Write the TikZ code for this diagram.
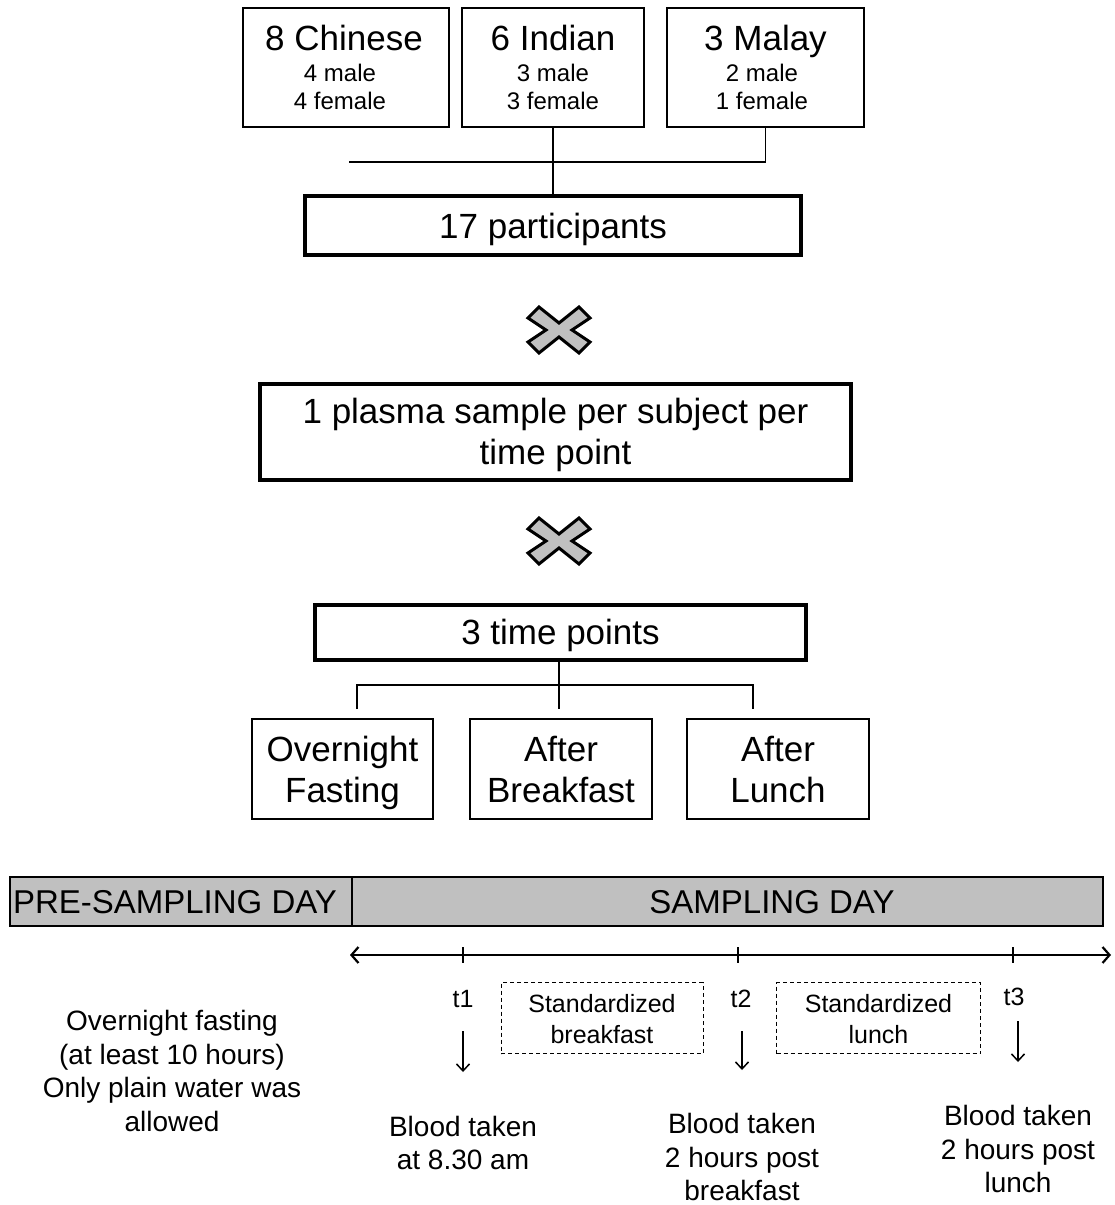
\documentclass[tikz,border=0pt]{standalone}
\usepackage{fontspec}
\setmainfont{Liberation Sans}
\usetikzlibrary{arrows.meta}
\definecolor{bandgray}{HTML}{C0C0C0}
\begin{document}
\begin{tikzpicture}[x=1pt,y=-1pt,
  thinbox/.style={draw, line width=1.3pt, inner sep=0pt},
  thickbox/.style={draw, line width=4pt, inner sep=0pt},
  bandbox/.style={draw, fill=bandgray, line width=2pt, inner sep=0pt, minimum height=49pt},
  mealbox/.style={draw, line width=1pt, dash pattern=on 4pt off 3pt, inner sep=0pt, minimum width=202pt, minimum height=71pt},
  link/.style={line width=1.2pt},
  timeline/.style={line width=2.2pt, {Straight Barb[length=7pt,width=16pt]}-{Straight Barb[length=7pt,width=16pt]}},
  tickmark/.style={line width=2.2pt},
  drop/.style={line width=1.5pt, -{Straight Barb[length=7pt,width=13pt]}},
  cross/.style={draw, fill=bandgray, line width=3pt, line join=miter},
  boxtext/.style={font=\fontsize{35}{41}\selectfont, align=center, inner sep=0pt},
  bandtext/.style={font=\fontsize{33}{41}\selectfont, inner sep=0pt},
  sub/.style={font=\fontsize{24}{28}\selectfont, align=center},
  mid/.style={font=\fontsize{28}{33.5}\selectfont, align=center},
  small/.style={font=\fontsize{25}{31}\selectfont, align=center}
]
\useasboundingbox (0,0) rectangle (1114,1205);

% ---- ethnic groups ----
\node[thinbox, minimum width=206pt, minimum height=119pt] (chinese) at (346,67.5) {};
\node[thinbox, minimum width=182pt, minimum height=119pt] (indian) at (553,67.5) {};
\node[thinbox, minimum width=197pt, minimum height=119pt] (malay) at (765.5,67.5) {};
\node[boxtext, anchor=base] (chineseT) at (344,50.5) {8 Chinese};
\node[sub] (chineseS) at (340,87) {4 male\\4 female};
\node[boxtext, anchor=base] (indianT) at (553,50.5) {6 Indian};
\node[sub] (indianS) at (553,87) {3 male\\3 female};
\node[boxtext, anchor=base] (malayT) at (765.5,50.5) {3 Malay};
\node[sub] (malayS) at (762,87) {2 male\\1 female};

% ---- participants ----
\node[thickbox, minimum width=496pt, minimum height=59pt] (part) at (553,225.5) {};
\node[boxtext, anchor=base] (partT) at (553,238) {17 participants};

\coordinate (joinL) at (349,162);
\draw[link] (malay.south) |- (joinL);
\draw[link] (indian.south) -- (part.north);

% ---- multiplication signs ----
\foreach \cy/\nm in {330/crossA, 541/crossB}{
  \coordinate (\nm) at (559,\cy);
  \draw[cross] (\nm) ++(0,-7) -- ++(20,-16) -- ++(11,11) -- ++(-18,12)
     -- ++(18,12) -- ++(-11,11) -- ++(-20,-16) -- ++(-20,16) -- ++(-11,-11)
     -- ++(18,-12) -- ++(-18,-12) -- ++(11,-11) -- cycle;
}

% ---- samples ----
\node[thickbox, minimum width=591pt, minimum height=96pt] (plasma) at (555.5,432) {};
\node[boxtext, anchor=north] (plasmaT) at (555.5,398) {1 plasma sample per subject per\\time point};

\node[thickbox, minimum width=491pt, minimum height=55pt] (tp) at (560.5,632.5) {};
\node[boxtext, anchor=base] (tpT) at (560.5,644) {3 time points};

\node[thinbox, minimum width=181pt, minimum height=100pt] (fast) at (342.5,769) {};
\node[thinbox, minimum width=182pt, minimum height=100pt] (bfast) at (561,769) {};
\node[thinbox, minimum width=182pt, minimum height=100pt] (lunch) at (778,769) {};
\node[boxtext, anchor=north] (fastT) at (342.5,736) {Overnight\\Fasting};
\node[boxtext, anchor=north] (bfastT) at (561,736) {After\\Breakfast};
\node[boxtext, anchor=north] (lunchT) at (778,736) {After\\Lunch};

\coordinate (brL) at (357,685);
\coordinate (brM) at (559,685);
\coordinate (brR) at (753,685);
\draw[link] (559,0 |- tp.south) -- (brM) -- ++(0,24);
\draw[link] (brL) ++(0,24) -- (brL) -- (brR) -- ++(0,24);

% ---- day band ----
\node[bandbox, minimum width=342pt] (pre) at (181,901.5) {};
\node[bandbox, minimum width=751pt] (samp) at (727.5,901.5) {};
\node[bandtext, anchor=base] (preT) at (175,913.5) {PRE-SAMPLING DAY};
\node[bandtext, anchor=base] (sampT) at (772,913.5) {SAMPLING DAY};

% ---- time axis ----
\coordinate (axL) at (350,955);
\coordinate (axR) at (1111,955);
\draw[timeline] (axL) -- (axR);
\foreach \x/\nm in {463/tkA, 738/tkB, 1013/tkC}{
  \coordinate (\nm) at (\x,955);
  \draw[tickmark] (\nm) ++(0,-8) -- ++(0,16);
}

\node[small] (tA) at (463,999) {t1};
\node[small] (tB) at (741,999) {t2};
\node[small] (tC) at (1014,997) {t3};

\node[mealbox] (mealA) at (602,1018) {};
\node[mealbox, minimum width=204pt] (mealB) at (878.5,1018) {};
\node[small] (mealAT) at (602,1019) {Standardized\\breakfast};
\node[small] (mealBT) at (878.5,1019) {Standardized\\lunch};

\coordinate (dAs) at (463,1031);
\coordinate (dAe) at (463,1072);
\coordinate (dBs) at (742,1031);
\coordinate (dBe) at (742,1070);
\coordinate (dCs) at (1018,1021);
\coordinate (dCe) at (1018,1062);
\draw[drop] (dAs) -- (dAe);
\draw[drop] (dBs) -- (dBe);
\draw[drop] (dCs) -- (dCe);

% ---- notes ----
\node[mid] (preNote) at (172,1071) {Overnight fasting\\(at least 10 hours)\\Only plain water was\\allowed};
\node[mid] (noteA) at (463,1143) {Blood taken\\at 8.30 am};
\node[mid] (noteB) at (742,1157) {Blood taken\\2 hours post\\breakfast};
\node[mid] (noteC) at (1018,1149) {Blood taken\\2 hours post\\lunch};
\end{tikzpicture}
\end{document}
